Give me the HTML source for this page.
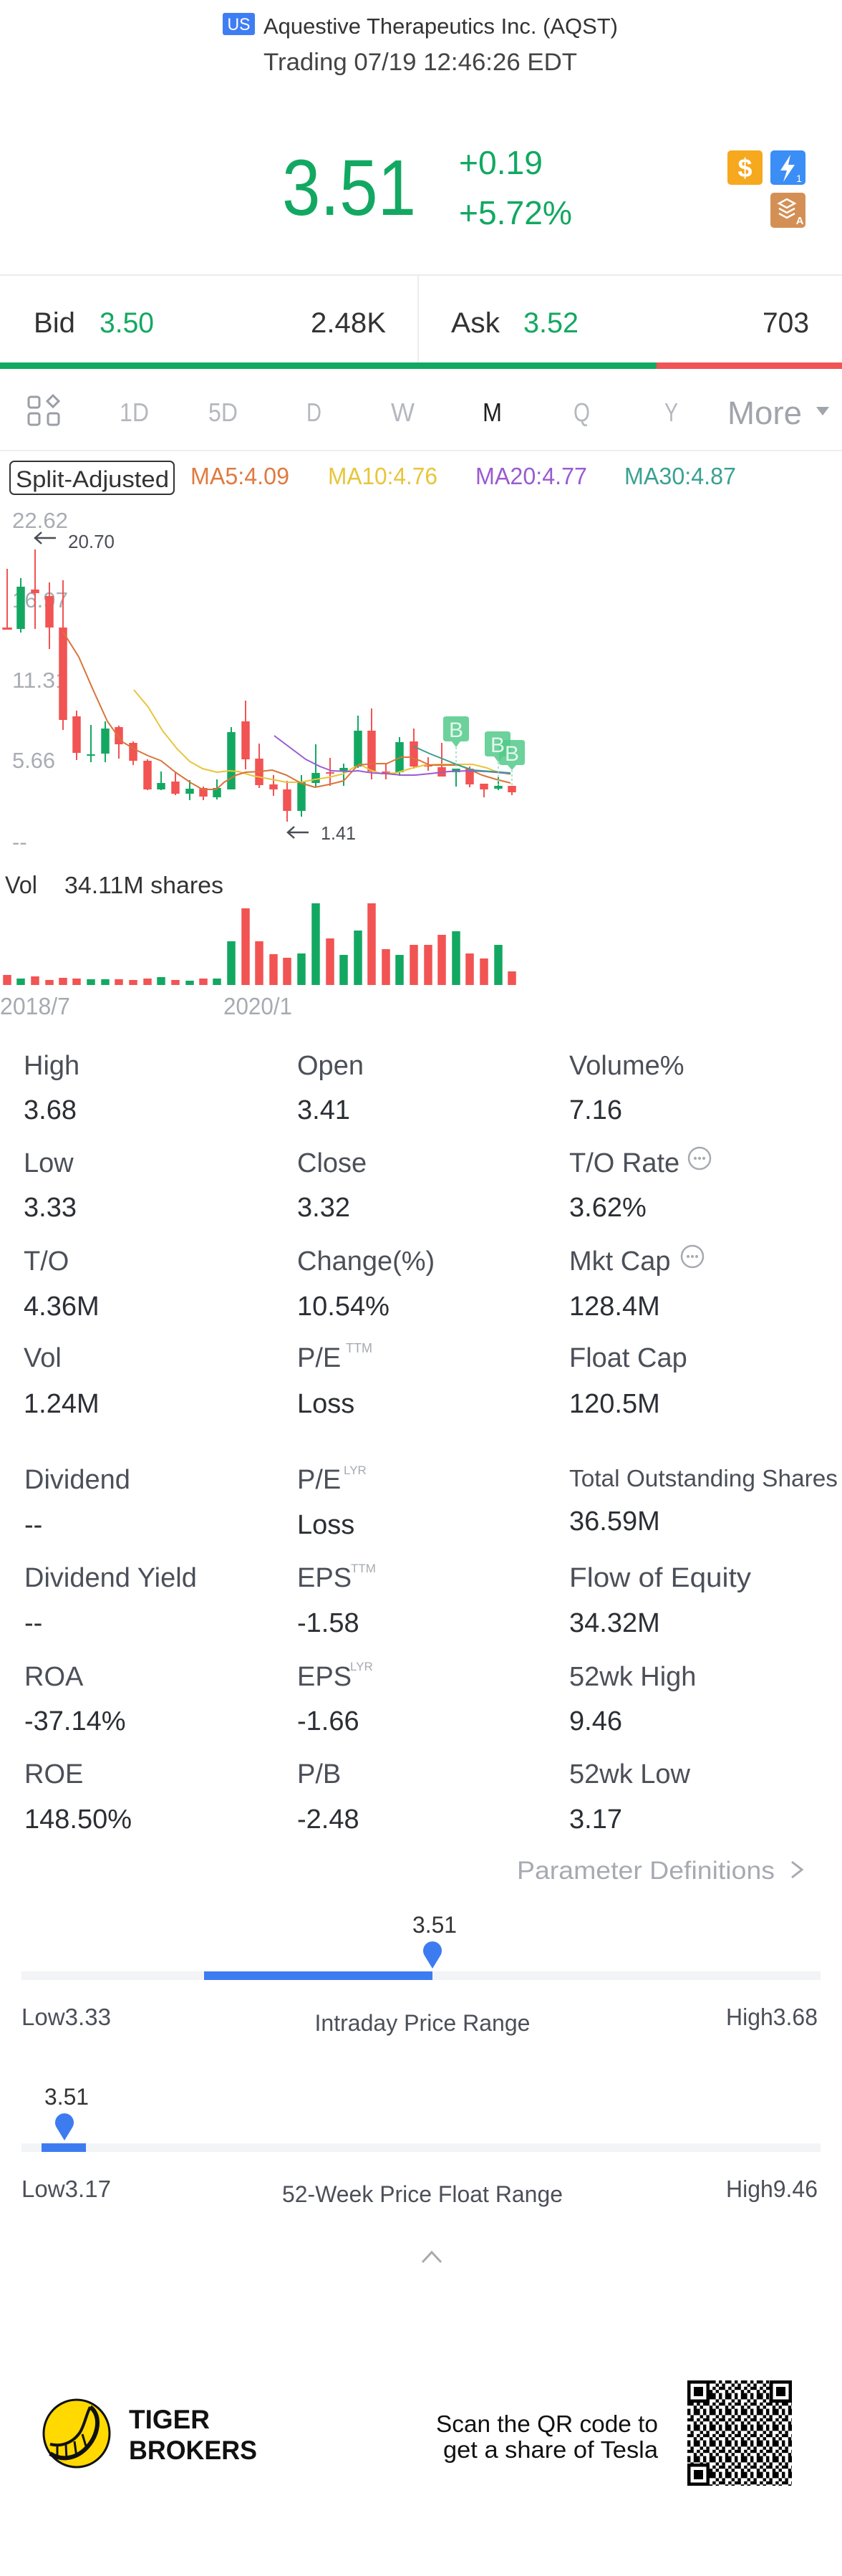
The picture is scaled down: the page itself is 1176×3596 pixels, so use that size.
<!DOCTYPE html>
<html>
<head>
<meta charset="utf-8">
<style>
html,body{margin:0;padding:0;background:#fff;}
body{width:1176px;height:3596px;overflow:hidden;}
svg{display:block;font-family:"Liberation Sans",sans-serif;}
</style>
</head>
<body>
<svg width="1176" height="3596" viewBox="0 0 1176 3596" xmlns="http://www.w3.org/2000/svg">
<defs>
<pattern id="qr" x="960" y="3323" width="22" height="22" patternUnits="userSpaceOnUse">
<rect x="0" y="0" width="22" height="22" fill="#fff"/>
<rect x="0" y="0" width="4.4" height="4.4" fill="#000"/><rect x="8.8" y="0" width="8.8" height="4.4" fill="#000"/>
<rect x="4.4" y="4.4" width="4.4" height="4.4" fill="#000"/><rect x="17.6" y="4.4" width="4.4" height="4.4" fill="#000"/>
<rect x="0" y="8.8" width="8.8" height="4.4" fill="#000"/><rect x="13.2" y="8.8" width="4.4" height="4.4" fill="#000"/>
<rect x="8.8" y="13.2" width="4.4" height="4.4" fill="#000"/><rect x="17.6" y="13.2" width="4.4" height="4.4" fill="#000"/>
<rect x="0" y="17.6" width="4.4" height="4.4" fill="#000"/><rect x="8.8" y="17.6" width="8.8" height="4.4" fill="#000"/>
</pattern>
</defs>

<!-- Header -->
<rect x="311" y="18" width="45" height="31" rx="3" fill="#3f7ef2"/>
<text x="333.5" y="42" font-size="24" fill="#fff" text-anchor="middle" textLength="32" lengthAdjust="spacingAndGlyphs">US</text>
<text x="368" y="47" font-size="31" fill="#333" textLength="495" lengthAdjust="spacingAndGlyphs">Aquestive Therapeutics Inc. (AQST)</text>
<text x="368" y="98" font-size="34" fill="#444" textLength="438" lengthAdjust="spacingAndGlyphs">Trading 07/19 12:46:26 EDT</text>

<text x="394" y="300" font-size="110" fill="#13a862" textLength="187" lengthAdjust="spacingAndGlyphs">3.51</text>
<text x="641" y="243" font-size="46" fill="#13a862" textLength="117" lengthAdjust="spacingAndGlyphs">+0.19</text>
<text x="641" y="313" font-size="46" fill="#13a862" textLength="158" lengthAdjust="spacingAndGlyphs">+5.72%</text>

<!-- icons -->
<rect x="1016" y="210" width="49" height="48" rx="5" fill="#f6a81e"/>
<text x="1040.5" y="247" font-size="36" font-weight="bold" fill="#fff" text-anchor="middle">$</text>
<rect x="1076" y="210" width="49" height="48" rx="5" fill="#3a8ef5"/>
<path d="M1104 216 L1090 238 L1099 238 L1094 254 L1110 230 L1101 230 Z" fill="#fff"/>
<text x="1116" y="254" font-size="14" fill="#fff" text-anchor="middle">1</text>
<rect x="1076" y="269" width="49" height="49" rx="5" fill="#d48f55"/>
<path d="M1088 284 L1099 278 L1110 284 L1099 290 Z" fill="none" stroke="#fff" stroke-width="2.5"/>
<path d="M1088 291 L1099 297 L1110 291" fill="none" stroke="#fff" stroke-width="2.5"/>
<path d="M1088 298 L1099 304 L1110 298" fill="none" stroke="#fff" stroke-width="2.5"/>
<text x="1117" y="313" font-size="15" font-weight="bold" fill="#fff" text-anchor="middle">A</text>

<!-- Bid/Ask -->
<rect x="0" y="383" width="1176" height="2" fill="#ececec"/>
<rect x="583" y="385" width="2" height="121" fill="#ececec"/>
<text x="47" y="464" font-size="40" fill="#333" textLength="58" lengthAdjust="spacingAndGlyphs">Bid</text>
<text x="139" y="464" font-size="40" fill="#13a862" textLength="76" lengthAdjust="spacingAndGlyphs">3.50</text>
<text x="434" y="464" font-size="40" fill="#333" textLength="105" lengthAdjust="spacingAndGlyphs">2.48K</text>
<text x="630" y="464" font-size="40" fill="#333" textLength="68" lengthAdjust="spacingAndGlyphs">Ask</text>
<text x="731" y="464" font-size="40" fill="#13a862" textLength="77" lengthAdjust="spacingAndGlyphs">3.52</text>
<text x="1065" y="464" font-size="40" fill="#333" textLength="65" lengthAdjust="spacingAndGlyphs">703</text>
<rect x="0" y="506" width="917" height="9" fill="#12a861"/>
<rect x="917" y="506" width="259" height="9" fill="#f05454"/>

<!-- Tabs -->
<g fill="none" stroke="#9a9ea6" stroke-width="3">
<rect x="40" y="554" width="15" height="15" rx="3"/>
<path d="M74 552 L82 560 L74 568 L66 560 Z"/>
<rect x="40" y="577" width="15" height="16" rx="3"/>
<rect x="67" y="577" width="15" height="16" rx="3"/>
</g>
<g font-size="36" fill="#b5b8be">
<text x="167" y="588" textLength="41" lengthAdjust="spacingAndGlyphs">1D</text>
<text x="291" y="588" textLength="41" lengthAdjust="spacingAndGlyphs">5D</text>
<text x="428" y="588" textLength="21" lengthAdjust="spacingAndGlyphs">D</text>
<text x="546" y="588" textLength="33" lengthAdjust="spacingAndGlyphs">W</text>
<text x="674" y="588" fill="#1f1f1f" textLength="27" lengthAdjust="spacingAndGlyphs">M</text>
<text x="801" y="588" textLength="23" lengthAdjust="spacingAndGlyphs">Q</text>
<text x="928" y="588" textLength="19" lengthAdjust="spacingAndGlyphs">Y</text>
</g>
<text x="1016" y="592" font-size="45" fill="#a0a4ab" textLength="104" lengthAdjust="spacingAndGlyphs">More</text>
<polygon points="1140,568 1158,568 1149,580" fill="#a0a4ab"/>
<rect x="0" y="628" width="1176" height="2" fill="#eeeeee"/>

<!-- Legend -->
<rect x="14" y="644" width="229" height="46" rx="6" fill="none" stroke="#333" stroke-width="2"/>
<text x="22" y="680" font-size="32" fill="#333" textLength="214" lengthAdjust="spacingAndGlyphs">Split-Adjusted</text>
<text x="266" y="676" font-size="33" fill="#e07a3f" textLength="138" lengthAdjust="spacingAndGlyphs">MA5:4.09</text>
<text x="458" y="676" font-size="33" fill="#e8c53a" textLength="153" lengthAdjust="spacingAndGlyphs">MA10:4.76</text>
<text x="664" y="676" font-size="33" fill="#9b5bd1" textLength="156" lengthAdjust="spacingAndGlyphs">MA20:4.77</text>
<text x="872" y="676" font-size="33" fill="#3aa192" textLength="156" lengthAdjust="spacingAndGlyphs">MA30:4.87</text>

<!-- Axis labels -->
<g font-size="31" fill="#a9acb3">
<text x="17" y="737" textLength="78" lengthAdjust="spacingAndGlyphs">22.62</text>
<text x="17" y="848" textLength="78" lengthAdjust="spacingAndGlyphs">16.97</text>
<text x="17" y="960" textLength="78" lengthAdjust="spacingAndGlyphs">11.31</text>
<text x="17" y="1072" textLength="60" lengthAdjust="spacingAndGlyphs">5.66</text>
<text x="17" y="1186">--</text>
</g>
<g stroke="#4a4d55" stroke-width="2.5" fill="none">
<path d="M78 751 L49 751 M58 743 L49 751 L58 759"/>
<path d="M431 1162 L402 1162 M411 1154 L402 1162 L411 1170"/>
</g>
<text x="95" y="765" font-size="26" fill="#4a4d55" textLength="65" lengthAdjust="spacingAndGlyphs">20.70</text>
<text x="448" y="1172" font-size="26" fill="#4a4d55" textLength="49" lengthAdjust="spacingAndGlyphs">1.41</text>

<!-- Candles red -->
<g fill="#f25353" stroke="#f25353" stroke-width="2">
<line x1="10" y1="794" x2="10" y2="878"/><rect x="4.25" y="877" width="11.5" height="1" />
<line x1="49" y1="767" x2="49" y2="878"/><rect x="43.25" y="823" width="11.5" height="5" stroke="none"/>
<line x1="69" y1="813" x2="69" y2="906"/><rect x="63.25" y="832" width="11.5" height="44" stroke="none"/>
<line x1="88" y1="810" x2="88" y2="1019"/><rect x="82.25" y="876" width="11.5" height="129" stroke="none"/>
<line x1="107" y1="992" x2="107" y2="1061"/><rect x="101.25" y="1000" width="11.5" height="51" stroke="none"/>
<line x1="166" y1="1013" x2="166" y2="1059"/><rect x="160.25" y="1015" width="11.5" height="24" stroke="none"/>
<line x1="186" y1="1035" x2="186" y2="1068"/><rect x="180.25" y="1037" width="11.5" height="25" stroke="none"/>
<line x1="206" y1="1060" x2="206" y2="1103"/><rect x="200.25" y="1062" width="11.5" height="40" stroke="none"/>
<line x1="245" y1="1078" x2="245" y2="1110"/><rect x="239.25" y="1091" width="11.5" height="17" stroke="none"/>
<line x1="284" y1="1098" x2="284" y2="1117"/><rect x="278.25" y="1100" width="11.5" height="12" stroke="none"/>
<line x1="343" y1="978" x2="343" y2="1074"/><rect x="337.25" y="1007" width="11.5" height="53" stroke="none"/>
<line x1="362" y1="1038" x2="362" y2="1100"/><rect x="356.25" y="1059" width="11.5" height="37" stroke="none"/>
<line x1="382" y1="1082" x2="382" y2="1111"/><rect x="376.25" y="1095" width="11.5" height="7" stroke="none"/>
<line x1="401" y1="1090" x2="401" y2="1147"/><rect x="395.25" y="1102" width="11.5" height="30" stroke="none"/>
<line x1="461" y1="1058" x2="461" y2="1097"/><rect x="455.25" y="1078" width="11.5" height="2" stroke="none"/>
<line x1="519" y1="989" x2="519" y2="1088"/><rect x="513.25" y="1020" width="11.5" height="57" stroke="none"/>
<line x1="539" y1="1066" x2="539" y2="1088"/><rect x="533.25" y="1077" width="11.5" height="4" stroke="none"/>
<line x1="578" y1="1017" x2="578" y2="1073"/><rect x="572.25" y="1035" width="11.5" height="35" stroke="none"/>
<line x1="598" y1="1057" x2="598" y2="1076"/><rect x="592.25" y="1067" width="11.5" height="3" stroke="none"/>
<line x1="617" y1="1037" x2="617" y2="1084"/><rect x="611.25" y="1071" width="11.5" height="13" stroke="none"/>
<line x1="656" y1="1070" x2="656" y2="1099"/><rect x="650.25" y="1073" width="11.5" height="22" stroke="none"/>
<line x1="676" y1="1094" x2="676" y2="1113"/><rect x="670.25" y="1094" width="11.5" height="8" stroke="none"/>
<line x1="715" y1="1097" x2="715" y2="1110"/><rect x="709.25" y="1097" width="11.5" height="9" stroke="none"/>
</g>
<!-- Candles green -->
<g fill="#13a862" stroke="#13a862" stroke-width="2">
<line x1="29" y1="807" x2="29" y2="883"/><rect x="23.25" y="819" width="11.5" height="59" stroke="none"/>
<line x1="127" y1="1012" x2="127" y2="1064"/><rect x="121.25" y="1053" width="11.5" height="2" stroke="none"/>
<line x1="147" y1="1007" x2="147" y2="1064"/><rect x="141.25" y="1017" width="11.5" height="35" stroke="none"/>
<line x1="225" y1="1077" x2="225" y2="1103"/><rect x="219.25" y="1093" width="11.5" height="9" stroke="none"/>
<line x1="265" y1="1089" x2="265" y2="1117"/><rect x="259.25" y="1101" width="11.5" height="7" stroke="none"/>
<line x1="303" y1="1088" x2="303" y2="1116"/><rect x="297.25" y="1100" width="11.5" height="13" stroke="none"/>
<line x1="323" y1="1015" x2="323" y2="1102"/><rect x="317.25" y="1022" width="11.5" height="80" stroke="none"/>
<line x1="421" y1="1082" x2="421" y2="1140"/><rect x="415.25" y="1092" width="11.5" height="40" stroke="none"/>
<line x1="441" y1="1039" x2="441" y2="1098"/><rect x="435.25" y="1079" width="11.5" height="14" stroke="none"/>
<line x1="480" y1="1066" x2="480" y2="1097"/><rect x="474.25" y="1072" width="11.5" height="5" stroke="none"/>
<line x1="500" y1="999" x2="500" y2="1072"/><rect x="494.25" y="1020" width="11.5" height="50" stroke="none"/>
<line x1="558" y1="1029" x2="558" y2="1083"/><rect x="552.25" y="1036" width="11.5" height="42" stroke="none"/>
<line x1="637" y1="1073" x2="637" y2="1098"/><rect x="631.25" y="1073" width="11.5" height="5" stroke="none"/>
<line x1="696" y1="1085" x2="696" y2="1103"/><rect x="690.25" y="1097" width="11.5" height="4" stroke="none"/>
</g>

<!-- MA lines -->
<g fill="none" stroke-width="2" stroke-linejoin="round">
<polyline stroke="#e8c53a" points="187,963 207,987 227,1020 247,1045 265,1063 283,1073 303,1078 320,1076 333,1077 353,1083 380,1088 400,1092 420,1092 440,1088 460,1085 480,1080 493,1072 503,1067 517,1075 533,1080 553,1079 573,1073 593,1068 613,1067 640,1067 660,1067 680,1072 693,1077 713,1081"/>
<polyline stroke="#d9743a" points="88,882 110,917 130,963 150,1007 170,1035 190,1047 207,1055 225,1062 245,1078 267,1093 283,1102 302,1102 313,1092 330,1082 343,1078 363,1077 380,1075 400,1082 420,1093 440,1099 460,1095 480,1090 500,1068 520,1066 540,1066 560,1057 573,1057 587,1062 600,1068 620,1068 640,1068 653,1073 673,1082 693,1088 713,1093"/>
<polyline stroke="#9b5bd1" points="383,1027 407,1045 427,1060 447,1070 463,1076 487,1077 500,1076 520,1079 540,1080 560,1082 580,1082 600,1080 627,1077 653,1076 680,1077 713,1080"/>
<polyline stroke="#3a9e8f" points="578,1042 600,1052 620,1060 640,1068 660,1075 687,1077 713,1079"/>
</g>

<!-- B markers -->
<g stroke="#8fdcb3" stroke-width="1.5" stroke-dasharray="3,3">
<line x1="637" y1="1043" x2="637" y2="1073"/>
<line x1="696" y1="1064" x2="696" y2="1096"/>
<line x1="715" y1="1075" x2="715" y2="1097"/>
</g>
<g fill="#52c98a" fill-opacity="0.85">
<path d="M623 1000 H651 Q655 1000 655 1004 V1031 Q655 1035 651 1035 H643 L637 1043 L631 1035 H623 Q619 1035 619 1031 V1004 Q619 1000 623 1000 Z"/>
<path d="M681 1021 H709 Q713 1021 713 1025 V1052 Q713 1056 709 1056 H702 L696 1064 L690 1056 H681 Q677 1056 677 1052 V1025 Q677 1021 681 1021 Z"/>
<path d="M701 1033 H729 Q733 1033 733 1037 V1064 Q733 1068 729 1068 H721 L715 1075 L709 1068 H701 Q697 1068 697 1064 V1037 Q697 1033 701 1033 Z"/>
</g>
<g font-size="30" fill="#e3f8ec" text-anchor="middle">
<text x="637" y="1029">B</text>
<text x="695" y="1050">B</text>
<text x="715" y="1062">B</text>
</g>

<!-- Volume -->
<text x="7" y="1247" font-size="34" fill="#333" textLength="45" lengthAdjust="spacingAndGlyphs">Vol</text>
<text x="90" y="1247" font-size="33" fill="#333" textLength="222" lengthAdjust="spacingAndGlyphs">34.11M shares</text>
<g fill="#f25353">
<rect x="4.25" y="1361" width="11.5" height="14"/>
<rect x="43.25" y="1363" width="11.5" height="12"/>
<rect x="63.25" y="1368" width="11.5" height="7"/>
<rect x="82.25" y="1365" width="11.5" height="10"/>
<rect x="101.25" y="1366" width="11.5" height="9"/>
<rect x="160.25" y="1367" width="11.5" height="8"/>
<rect x="180.25" y="1368" width="11.5" height="7"/>
<rect x="200.25" y="1366" width="11.5" height="9"/>
<rect x="239.25" y="1368" width="11.5" height="7"/>
<rect x="278.25" y="1366" width="11.5" height="9"/>
<rect x="337.25" y="1268" width="11.5" height="107"/>
<rect x="356.25" y="1314" width="11.5" height="61"/>
<rect x="376.25" y="1332" width="11.5" height="43"/>
<rect x="395.25" y="1337" width="11.5" height="38"/>
<rect x="455.25" y="1310" width="11.5" height="65"/>
<rect x="513.25" y="1261" width="11.5" height="114"/>
<rect x="533.25" y="1325" width="11.5" height="50"/>
<rect x="572.25" y="1319" width="11.5" height="56"/>
<rect x="592.25" y="1319" width="11.5" height="56"/>
<rect x="611.25" y="1305" width="11.5" height="70"/>
<rect x="650.25" y="1331" width="11.5" height="44"/>
<rect x="670.25" y="1338" width="11.5" height="37"/>
<rect x="709.25" y="1356" width="11.5" height="19"/>
</g>
<g fill="#13a862">
<rect x="23.25" y="1366" width="11.5" height="9"/>
<rect x="121.25" y="1367" width="11.5" height="8"/>
<rect x="141.25" y="1367" width="11.5" height="8"/>
<rect x="219.25" y="1364" width="11.5" height="11"/>
<rect x="259.25" y="1369" width="11.5" height="6"/>
<rect x="297.25" y="1366" width="11.5" height="9"/>
<rect x="317.25" y="1314" width="11.5" height="61"/>
<rect x="415.25" y="1331" width="11.5" height="44"/>
<rect x="435.25" y="1261" width="11.5" height="114"/>
<rect x="474.25" y="1333" width="11.5" height="42"/>
<rect x="494.25" y="1299" width="11.5" height="76"/>
<rect x="552.25" y="1333" width="11.5" height="42"/>
<rect x="631.25" y="1300" width="11.5" height="75"/>
<rect x="690.25" y="1319" width="11.5" height="56"/>
</g>
<text x="0" y="1416" font-size="33" fill="#a6aab1" textLength="98" lengthAdjust="spacingAndGlyphs">2018/7</text>
<text x="312" y="1416" font-size="33" fill="#a6aab1" textLength="96" lengthAdjust="spacingAndGlyphs">2020/1</text>

<!-- Stats group 1 -->
<g font-size="38" fill="#4b4f58">
<text x="33" y="1500">High</text>
<text x="33" y="1636">Low</text>
<text x="33" y="1773">T/O</text>
<text x="33" y="1908">Vol</text>
<text x="415" y="1500">Open</text>
<text x="415" y="1636">Close</text>
<text x="415" y="1773">Change(%)</text>
<text x="415" y="1908">P/E</text>
<text x="795" y="1500">Volume%</text>
<text x="795" y="1636">T/O Rate</text>
<text x="795" y="1773">Mkt Cap</text>
<text x="795" y="1908">Float Cap</text>
</g>
<text x="483" y="1888" font-size="18" fill="#a6aab1">TTM</text>
<g fill="none" stroke="#a6aab1" stroke-width="2.5">
<circle cx="977" cy="1617" r="15"/>
<circle cx="967" cy="1754" r="15"/>
</g>
<g fill="#a6aab1">
<circle cx="971" cy="1617" r="2"/><circle cx="977" cy="1617" r="2"/><circle cx="983" cy="1617" r="2"/>
<circle cx="961" cy="1754" r="2"/><circle cx="967" cy="1754" r="2"/><circle cx="973" cy="1754" r="2"/>
</g>
<g font-size="38" fill="#2b2e34">
<text x="33" y="1562">3.68</text>
<text x="33" y="1698">3.33</text>
<text x="33" y="1836">4.36M</text>
<text x="33" y="1972">1.24M</text>
<text x="415" y="1562">3.41</text>
<text x="415" y="1698">3.32</text>
<text x="415" y="1836">10.54%</text>
<text x="415" y="1972">Loss</text>
<text x="795" y="1562">7.16</text>
<text x="795" y="1698">3.62%</text>
<text x="795" y="1836">128.4M</text>
<text x="795" y="1972">120.5M</text>
</g>

<!-- Stats group 2 -->
<g font-size="38" fill="#4b4f58">
<text x="34" y="2078">Dividend</text>
<text x="34" y="2215">Dividend Yield</text>
<text x="34" y="2353">ROA</text>
<text x="34" y="2489">ROE</text>
<text x="415" y="2078">P/E</text>
<text x="415" y="2215">EPS</text>
<text x="415" y="2353">EPS</text>
<text x="415" y="2489">P/B</text>
<text x="795" y="2215" textLength="254" lengthAdjust="spacingAndGlyphs">Flow of Equity</text>
<text x="795" y="2353">52wk High</text>
<text x="795" y="2489">52wk Low</text>
</g>
<text x="795" y="2075" font-size="33" fill="#4b4f58" textLength="375" lengthAdjust="spacingAndGlyphs">Total Outstanding Shares</text>
<g font-size="17" fill="#a6aab1">
<text x="480" y="2058">LYR</text>
<text x="490" y="2195">TTM</text>
<text x="489" y="2332">LYR</text>
</g>
<g font-size="38" fill="#2b2e34">
<text x="34" y="2141">--</text>
<text x="34" y="2278">--</text>
<text x="34" y="2415">-37.14%</text>
<text x="34" y="2552">148.50%</text>
<text x="415" y="2141">Loss</text>
<text x="415" y="2278">-1.58</text>
<text x="415" y="2415">-1.66</text>
<text x="415" y="2552">-2.48</text>
<text x="795" y="2136">36.59M</text>
<text x="795" y="2278">34.32M</text>
<text x="795" y="2415">9.46</text>
<text x="795" y="2552">3.17</text>
</g>

<!-- Parameter definitions -->
<text x="722" y="2623" font-size="35" fill="#a6aab1" textLength="360" lengthAdjust="spacingAndGlyphs">Parameter Definitions</text>
<polyline points="1106,2599 1120,2610 1106,2621" fill="none" stroke="#a6aab1" stroke-width="3"/>

<!-- Slider 1 -->
<text x="607" y="2698" font-size="32" fill="#333" text-anchor="middle" textLength="62" lengthAdjust="spacingAndGlyphs">3.51</text>
<path d="M604 2748 L593 2730 A13 13 0 1 1 615 2730 Z" fill="#3d7cf0"/>
<rect x="30" y="2752" width="1116" height="12" fill="#f3f4f6"/>
<rect x="285" y="2752" width="319" height="12" fill="#3d7cf0"/>
<text x="30" y="2827" font-size="33" fill="#4b4f58" textLength="125" lengthAdjust="spacingAndGlyphs">Low3.33</text>
<text x="590" y="2835" font-size="32" fill="#4b4f58" text-anchor="middle" textLength="301" lengthAdjust="spacingAndGlyphs">Intraday Price Range</text>
<text x="1142" y="2827" font-size="33" fill="#4b4f58" text-anchor="end" textLength="128" lengthAdjust="spacingAndGlyphs">High3.68</text>

<!-- Slider 2 -->
<text x="93" y="2938" font-size="32" fill="#333" text-anchor="middle" textLength="62" lengthAdjust="spacingAndGlyphs">3.51</text>
<path d="M90 2988 L79 2970 A13 13 0 1 1 101 2970 Z" fill="#3d7cf0"/>
<rect x="30" y="2992" width="1116" height="12" fill="#f3f4f6"/>
<rect x="58" y="2992" width="62" height="12" fill="#3d7cf0"/>
<text x="30" y="3067" font-size="33" fill="#4b4f58" textLength="125" lengthAdjust="spacingAndGlyphs">Low3.17</text>
<text x="590" y="3074" font-size="32" fill="#4b4f58" text-anchor="middle" textLength="392" lengthAdjust="spacingAndGlyphs">52-Week Price Float Range</text>
<text x="1142" y="3067" font-size="33" fill="#4b4f58" text-anchor="end" textLength="128" lengthAdjust="spacingAndGlyphs">High9.46</text>

<polyline points="590,3158 603,3144 616,3158" fill="none" stroke="#a6aab1" stroke-width="3"/>

<!-- Footer -->
<ellipse cx="107" cy="3397" rx="46" ry="47" fill="#ffd900" stroke="#111" stroke-width="3"/>
<path d="M126 3360 C142 3372 138 3400 120 3418 C106 3432 86 3436 70 3425" fill="none" stroke="#111" stroke-width="6"/>
<path d="M126 3360 C120 3372 118 3385 112 3395 C102 3410 86 3416 70 3412" fill="none" stroke="#111" stroke-width="4"/>
<g stroke="#111" stroke-width="3">
<line x1="80" y1="3414" x2="80" y2="3430"/>
<line x1="92" y1="3413" x2="93" y2="3433"/>
<line x1="104" y1="3408" x2="107" y2="3430"/>
<line x1="115" y1="3398" x2="121" y2="3418"/>
</g>
<text x="180" y="3390" font-size="37" font-weight="bold" fill="#111" textLength="113" lengthAdjust="spacingAndGlyphs">TIGER</text>
<text x="180" y="3433" font-size="37" font-weight="bold" fill="#111" textLength="179" lengthAdjust="spacingAndGlyphs">BROKERS</text>
<text x="919" y="3395" font-size="33" fill="#111" text-anchor="end" textLength="310" lengthAdjust="spacingAndGlyphs">Scan the QR code to</text>
<text x="919" y="3431" font-size="33" fill="#111" text-anchor="end" textLength="300" lengthAdjust="spacingAndGlyphs">get a share of Tesla</text>

<rect x="960" y="3323" width="146" height="147" fill="url(#qr)"/>
<g>
<rect x="960" y="3323" width="31" height="31" fill="#000"/><rect x="964.5" y="3327.5" width="22" height="22" fill="#fff"/><rect x="969" y="3332" width="13" height="13" fill="#000"/>
<rect x="1075" y="3323" width="31" height="31" fill="#000"/><rect x="1079.5" y="3327.5" width="22" height="22" fill="#fff"/><rect x="1084" y="3332" width="13" height="13" fill="#000"/>
<rect x="960" y="3439" width="31" height="31" fill="#000"/><rect x="964.5" y="3443.5" width="22" height="22" fill="#fff"/><rect x="969" y="3448" width="13" height="13" fill="#000"/>
</g>
</svg>
</body>
</html>
